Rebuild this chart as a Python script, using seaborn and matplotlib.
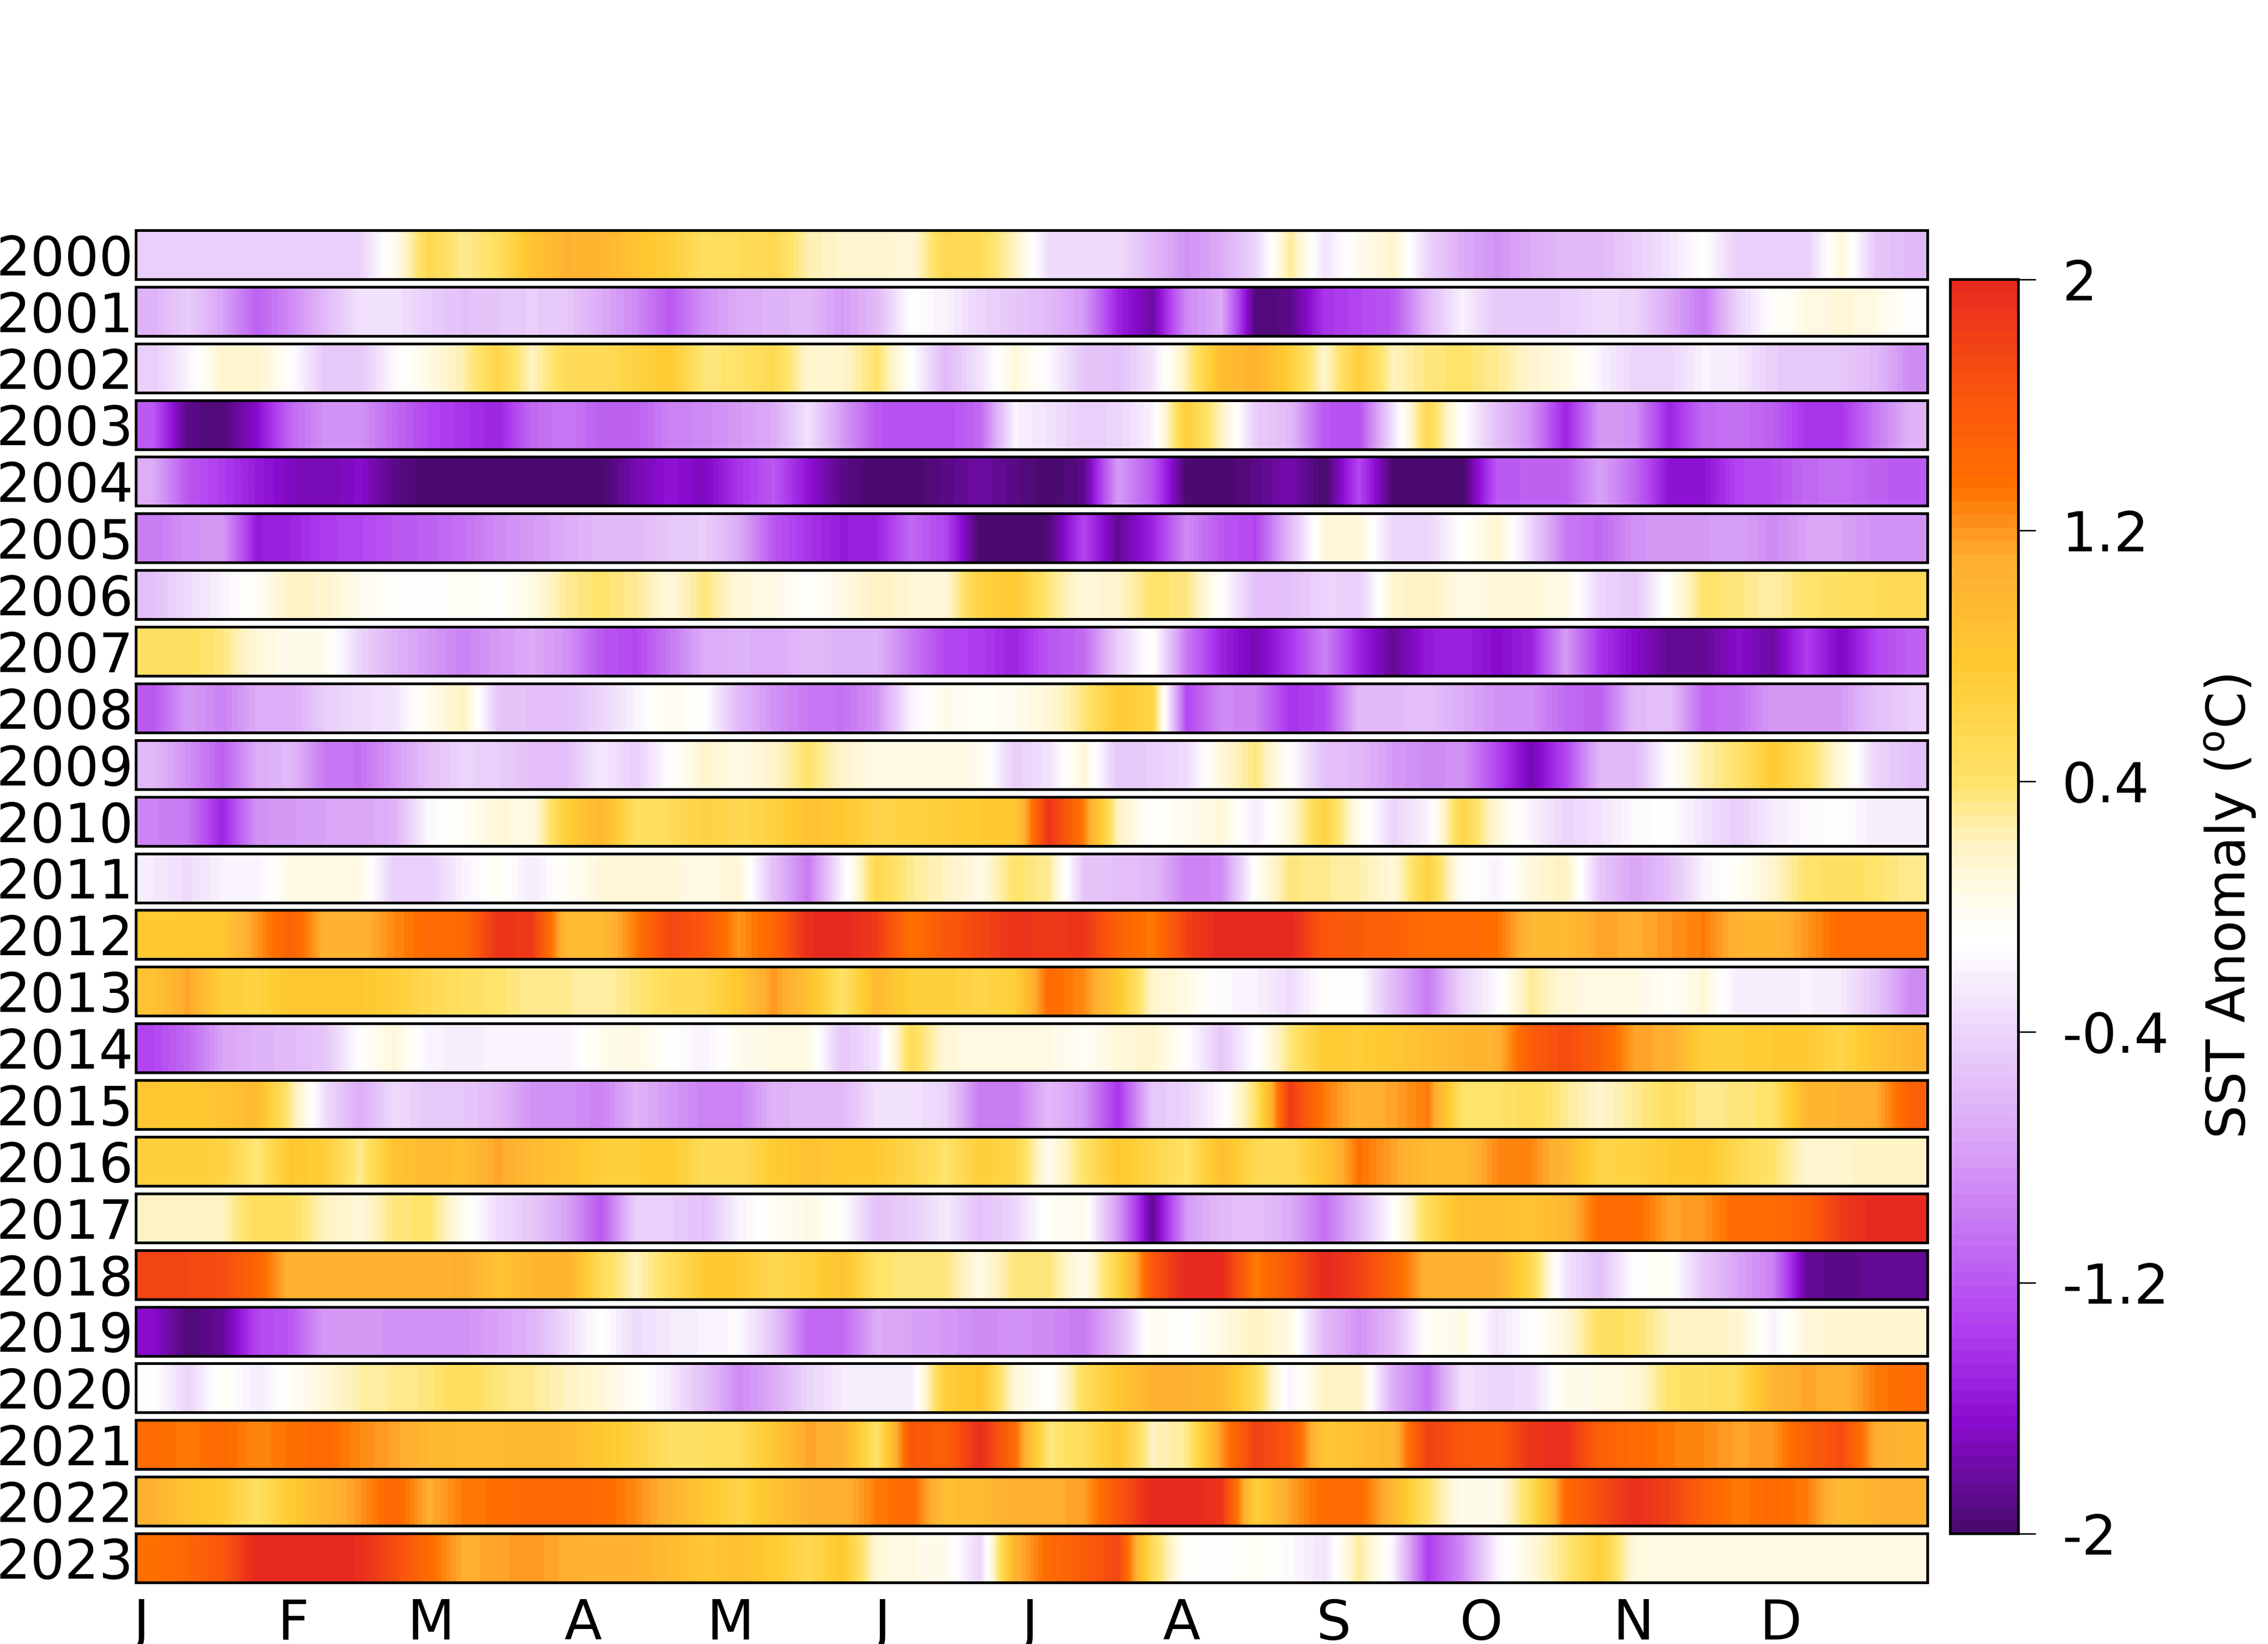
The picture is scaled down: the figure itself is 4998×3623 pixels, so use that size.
import calendar
import numpy as np
import matplotlib
matplotlib.use("Agg")
import matplotlib.pyplot as plt
from matplotlib.colors import LinearSegmentedColormap, Normalize
import seaborn as sns

years = list(range(2000, 2024))
months = ["J", "F", "M", "A", "M", "J", "J", "A", "S", "O", "N", "D"]
cbar_ticks = [-2, -1.2, -0.4, 0.4, 1.2, 2]
cbar_labels = ["-2", "-1.2", "-0.4", "0.4", "1.2", "2"]

# weekly SST anomaly
sst_2000 = [-.42, -.42, -.42, -.42, -.42, -.42, -.42, 0, .55, .3, .45, .85, 1.05, 1.0, .85, .7, .45, .5, .55, .25, .15, .15, .1, .55, .5,
            .2, -.35, -.35, -.35, -.6, -.85, -.7, -.4, .3, -.3, 0, .15, -.4, -.7, -.85, -.7, -.6, -.6, -.45, -.3, -.1, -.45, -.45, -.45, .1, -.5, -.6]
sst_2001 = [-.65, -.45, -.75, -1.15, -.9, -.6, -.3, -.3, -.45, -.55, -.5, -.45, -.5, -.7, -.9, -1.2, -.85, -.7, -.65, -.6, -.8, -.6, -.1, -.2, -.4,
            -.5, -.6, -.8, -1.5, -1.8, -.9, -.7, -1.95, -1.9, -1.4, -1.3, -1.2, -.6, -.2, -.5, -.5, -.45, -.35, -.4, -.7, -1.0, -.4, -.1, .05, .1, .05, -.12]
sst_2002 = [-.45, -.2, .15, .15, -.1, -.5, -.5, -.15, .05, .25, .6, .2, .5, .5, .65, .75, .35, .4, .55, .15, .15, .4, -.1, -.6, -.3,
            .1, -.15, -.5, -.55, -.3, .25, .9, 1.05, .7, .15, .7, .2, .35, .4, .3, .15, .05, -.2, -.4, -.4, -.2, -.25, -.45, -.5, -.5, -.6, -.9]
sst_2003 = [-1.2, -1.9, -1.95, -1.65, -1.1, -.85, -.85, -1.1, -1.3, -1.4, -1.5, -1.1, -1.0, -1.15, -1.15, -.95, -.9, -.8, -.7, -.3, -.8, -1.2, -1.25, -1.25, -1.1,
            -.2, -.3, -.45, -.4, -.2, .7, .2, -.45, -.6, -1.2, -1.25, -.3, .55, -.1, -.55, -.85, -1.5, -.8, -.85, -1.5, -1.1, -1.05, -1.15, -1.4, -1.4, -1.0, -.65]
sst_2004 = [-.7, -1.2, -1.35, -1.55, -1.7, -1.75, -1.65, -1.9, -2, -2, -2, -2, -2, -2, -1.75, -1.6, -1.7, -1.4, -1.2, -1.6, -1.9, -2, -2, -1.9, -1.8,
            -1.9, -2, -1.9, -.8, -1.2, -2, -2, -1.9, -1.75, -2, -1.3, -2, -2, -2, -1.2, -1.15, -1.15, -.75, -1.1, -1.6, -1.6, -1.3, -1.25, -1.1, -1.05, -1.15, -1.2]
sst_2005 = [-1.0, -.85, -.8, -1.55, -1.5, -1.35, -1.3, -1.2, -1.15, -1.05, -.9, -.8, -.7, -.6, -.6, -.5, -.45, -.7, -1.2, -1.4, -1.55, -1.5, -1.1, -1.3, -2,
            -2, -1.95, -1.3, -1.85, -1.5, -.9, -1.2, -1.3, -.6, .1, .1, -.4, -.4, -.1, .15, -.4, -1.0, -1.1, -.85, -.8, -.8, -.75, -.9, -.75, -.75, -.85, -.85]
sst_2006 = [-.55, -.35, -.2, -.05, .2, .15, 0, -.1, -.12, -.05, -.1, .05, .3, .4, .3, .1, .35, .1, .05, -.1, .05, .2, .12, .12, .65,
            .75, .35, .1, .15, .4, .35, -.1, -.55, -.55, -.4, -.45, .15, .2, .05, .1, .1, .05, -.4, -.5, -.05, .4, .35, .25, .4, .45, .5, .5]
sst_2007 = [.45, .45, .35, .1, 0, 0, -.4, -.65, -.8, -.95, -.8, -.7, -.85, -1.2, -1.3, -1.0, -.7, -.65, -.7, -.6, -.65, -.65, -1.0, -1.3, -1.35,
            -1.5, -1.2, -1.1, -.45, -.05, -1.0, -1.5, -1.75, -1.4, -.95, -1.5, -1.85, -1.55, -1.5, -1.65, -1.5, -.8, -1.4, -1.65, -1.85, -1.85, -1.65, -1.8, -1.35, -1.7, -1.3, -1.15]
sst_2008 = [-1.2, -.8, -.95, -.7, -.7, -.45, -.35, -.3, 0, .2, -.5, -.55, -.55, -.4, -.2, 0, -.1, -.6, -.85, -1.0, -1.05, -.85, -.2, .02, -.08,
            0, .1, .35, .75, .6, -1.3, -.9, -.95, -1.4, -1.3, -.6, -.6, -.55, -.7, -.85, -.85, -1.1, -1.15, -.6, -.55, -1.1, -1.05, -.8, -.8, -.8, -.55, -.45]
sst_2009 = [-.6, -.85, -1.15, -.7, -.6, -1.0, -1.05, -.8, -.55, -.4, -.45, -.55, -.55, -.25, -.45, -.1, .15, .05, .15, .4, .15, .05, .08, .08, .02,
            -.45, -.3, .1, -.5, -.45, -.35, .1, .35, -.1, -.55, -.6, -.8, -.9, -.85, -1.3, -1.75, -1.3, -.6, -.6, -.1, .25, .4, .75, .45, .1, -.4, -.55]
sst_2010 = [-.95, -1.0, -1.5, -.85, -.8, -.75, -.75, -.65, -.15, -.05, .1, .05, .7, 1.0, .45, .5, .65, .55, .65, .85, .8, .6, .65, .7, .75,
            .75, 1.9, 1.3, .2, -.1, 0, .1, -.25, .1, .65, 0, -.4, -.2, .6, .1, -.2, -.4, -.3, -.15, -.1, -.3, -.45, -.25, -.15, -.1, -.25, -.25]
sst_2011 = [-.25, -.35, -.2, -.2, .05, .08, .05, -.45, -.45, -.2, -.05, -.25, -.05, .1, .12, .1, .05, .12, -.55, -1.0, -.2, .55, .3, .2, .05,
            .4, .3, -.5, -.55, -.6, -.95, -.9, -.05, .35, .3, .25, .1, .65, -.05, -.2, .1, .2, -.5, -.75, -.55, -.2, -.05, .15, .4, .45, .4, .3]
sst_2012 = [.75, .8, .8, 1.2, 1.5, 1.05, 1.05, 1.25, 1.4, 1.42, 1.9, 1.85, .95, .95, 1.3, 1.75, 1.6, 1.2, 1.45, 1.95, 2, 1.85, 1.35, 1.6, 1.75,
            1.9, 1.85, 1.9, 1.5, 1.3, 1.8, 2, 2, 2, 1.6, 1.55, 1.5, 1.4, 1.4, 1.35, 1.0, .95, 1.15, 1.1, 1.2, 1.3, 1.05, 1.0, 1.2, 1.4, 1.4, 1.4]
sst_2013 = [.85, 1.15, .7, .65, .8, .8, .8, .7, .55, .45, .4, .3, .3, .25, .35, .5, .55, .8, 1.2, .9, .4, .95, .7, .7, .6,
            .7, 1.4, 1.25, .8, .15, .05, -.15, -.2, -.35, -.1, -.1, -.6, -1.0, -.4, -.15, .3, .1, .05, .05, -.05, .1, -.25, -.25, -.2, -.25, -.5, -.9]
sst_2014 = [-1.3, -1.1, -.75, -.65, -.6, -.5, -.1, .1, -.2, -.22, -.2, -.2, -.2, 0, .05, -.1, -.2, 0, .05, .05, -.5, -.3, .5, .1, .05,
            .05, .05, -.05, .1, .15, -.1, -.5, -.1, .35, .75, .7, .8, .9, 1.0, 1.05, 1.55, 1.7, 1.5, 1.15, 1.1, .7, .7, .75, .75, .6, .85, 1.0]
sst_2015 = [.8, .75, .85, .95, .3, -.35, -.7, -.35, -.5, -.5, -.6, -.85, -.85, -.95, -.65, -.8, -.95, -.95, -.65, -.6, -.6, -.3, -.3, -.4, -1.0,
            -1.0, -.6, -.8, -1.4, -.5, -.4, -.15, .4, 1.85, 1.3, 1.05, 1.15, 1.3, .4, .4, .5, .3, .15, .3, .45, .3, .35, .4, 1.0, 1.05, 1.1, 1.5]
sst_2016 = [.7, .7, .65, .35, .8, .7, .3, .85, .95, .9, 1.15, .95, .85, .7, .7, .75, .5, .5, .75, .85, .8, .75, .6, .4, .7,
            .6, 0, .4, .8, .6, .4, .9, .55, .5, .85, 1.35, 1.15, .95, .95, 1.25, 1.25, 1.0, .6, .65, .75, .8, .55, .4, .15, .15, .2, .2]
sst_2017 = [.2, .2, .2, .5, .45, .2, .1, .35, .4, 0, -.35, -.5, -.75, -1.2, -.45, -.45, -.55, -.2, -.05, .05, -.1, -.55, -.45, -.25, -.55,
            -.4, -.05, .02, -.8, -1.85, -.8, -.6, -.55, -.7, -1.05, -.6, -.1, .5, .9, .9, .85, 1.0, 1.4, 1.4, 1.15, 1.2, 1.4, 1.4, 1.5, 1.85, 2, 2]
sst_2018 = [1.75, 1.75, 1.7, 1.45, 1.05, 1.05, 1.05, 1.05, 1.05, 1.1, .85, 1.0, 1.05, .5, .2, .45, .75, .75, .55, .65, .85, .4, .35, .35, .05,
            .35, .35, 0, .6, 1.6, 2, 2, 1.3, 1.6, 2, 1.8, 1.45, 1.05, 1.05, 1.05, .55, -.3, -.55, -.1, -.05, -.5, -.75, -.95, -1.85, -1.9, -1.85, -1.85]
sst_2019 = [-1.65, -1.95, -1.85, -1.3, -1.2, -.8, -.8, -.85, -.85, -.85, -.75, -.65, -.35, -.1, -.35, -.25, -.2, -.15, -.5, -1.1, -1.1, -.7, -.75, -.8, -.9,
            -.85, -.9, -1.0, -.6, 0, -.1, .05, .2, .05, -.6, -.85, -.6, -.05, .05, -.3, -.1, .1, .45, .4, .2, .2, .15, -.2, .1, .15, .15, .15]
sst_2020 = [-.1, -.4, -.05, -.25, -.05, .1, .25, .3, .35, .5, .35, .3, .2, .1, -.05, -.25, -.55, -.9, -.7, -.4, -.25, -.25, -.25, .7, .85,
            .1, -.1, .45, .8, 1.05, 1.05, 1.0, .5, -.2, .2, .2, -.7, -1.05, -.3, -.4, -.35, 0, .05, .1, .4, .45, .5, 1.0, 1.15, 1.05, 1.3, 1.4]
sst_2021 = [1.4, 1.3, 1.4, 1.25, 1.35, 1.4, 1.25, 1.15, 1.0, .95, .95, 1.0, .95, .8, .65, .45, .45, .5, .8, 1.15, 1.05, .4, 1.6, 1.5, 1.95,
            1.4, .35, .5, .8, .2, .3, 1.2, 1.8, 1.6, .8, .9, 1.0, 1.8, 1.6, 1.55, 1.9, 1.95, 1.5, 1.4, 1.3, 1.25, 1.15, 1.2, 1.5, 1.7, 1.1, 1.0]
sst_2022 = [1.05, .85, .75, .45, .75, 1.0, 1.2, 1.45, 1.1, 1.3, 1.35, 1.45, 1.45, 1.4, 1.25, 1.05, .8, .6, .85, 1.05, 1.05, 1.3, 1.4, .9, .95,
            1.1, 1.1, 1.15, 1.6, 2, 2, 1.9, .7, 1.15, 1.4, 1.4, 1.0, .4, 0, 0, .5, 1.4, 1.7, 1.95, 1.8, 1.5, 1.3, 1.4, 1.3, .95, 1.05, 1.05]
sst_2023 = [1.35, 1.45, 1.6, 2, 2, 2, 1.95, 1.7, 1.4, 1.1, 1.15, 1.2, 1.1, 1.05, 1.05, .95, .8, .9, .75, .55, .8, .1, .05, 0, -.4,
            1.05, 1.4, 1.55, 1.75, .5, -.1, -.1, -.05, -.15, -.3, .3, -.2, -1.35, -.9, -.2, .1, .35, .7, .08, .08, .08, .08, .08, .08, .08, .08, .08]

sst_rows = [sst_2000, sst_2001, sst_2002, sst_2003, sst_2004, sst_2005, sst_2006, sst_2007,
            sst_2008, sst_2009, sst_2010, sst_2011, sst_2012, sst_2013, sst_2014, sst_2015,
            sst_2016, sst_2017, sst_2018, sst_2019, sst_2020, sst_2021, sst_2022, sst_2023]

W, H = 4998, 3623
DAYS = 365.0

# colour ramp sampled from the colorbar
cmap = LinearSegmentedColormap.from_list("sst", [
    (0.00, "#4b0a70"), (0.085, "#8a0ccf"), (0.16, "#b03ef0"), (0.22, "#c068f2"),
    (0.32, "#dcaaf7"), (0.40, "#ecd5fb"), (0.47, "#ffffff"), (0.50, "#fffdf0"),
    (0.55, "#fff3c4"), (0.60, "#ffe36a"), (0.69, "#ffcb33"), (0.78, "#ffae30"),
    (0.84, "#ff7000"), (0.92, "#f9520f"), (1.00, "#e82a1e")], N=96)
norm = Normalize(-2, 2)

plt.rcParams["font.family"] = "DejaVu Sans"
plt.rcParams["axes.unicode_minus"] = False
fig = plt.figure(figsize=(W / 300, H / 300), dpi=300)


def box(x0, y0, x1, y1):
    return [x0 / W, 1 - y1 / H, (x1 - x0) / W, (y1 - y0) / H]


cax = fig.add_axes(box(4298, 616, 4448, 3380))
cb = None

for i, (year, row) in enumerate(zip(years, sst_rows)):
    top = 508 + i * 124.87
    ax = fig.add_axes(box(300, top, 4248, top + 108))
    values = np.array([row])
    sns.heatmap(values, ax=ax, cmap=cmap, vmin=-2, vmax=2, xticklabels=False,
                yticklabels=[str(year)], cbar=i == 0, cbar_ax=cax if i == 0 else None)
    if i == 0:
        cb = ax.collections[0].colorbar
    # smooth along the year like the original strips
    ax.imshow(values, cmap=cmap, norm=norm, aspect="auto", extent=(0, values.shape[1], 1, 0),
              interpolation="bilinear", interpolation_stage="data", zorder=2)
    ax.set_xlim(0, values.shape[1])
    ax.set_ylim(1, 0)
    ax.set_yticks([0.61])
    ax.set_yticklabels([str(year)])

    # month ticks, leap years shift from March on
    first_days = [1]
    for m in range(1, 12):
        first_days.append(first_days[-1] + calendar.monthrange(year, m)[1])
    ax.set_xticks([d / DAYS * values.shape[1] for d in first_days])
    ax.tick_params(axis="x", direction="in", length=6, width=1.44, bottom=True, top=False,
                   labelbottom=i == len(years) - 1, labelsize=29, pad=7.8)
    if i == len(years) - 1:
        ax.set_xticklabels(months)
    ax.tick_params(axis="y", length=0, labelsize=28.5, pad=1.5, labelrotation=0)
    for spine in ax.spines.values():
        spine.set_visible(True)
        spine.set_linewidth(1.44)
        spine.set_color("black")
    ax.set_zorder(3)

cb.set_ticks(cbar_ticks)
cb.set_ticklabels(cbar_labels)
cb.outline.set_visible(True)
cb.outline.set_linewidth(1.44)
cb.ax.tick_params(length=9, width=0.8, labelsize=29, pad=14, direction="out")
cb.set_label(r"SST Anomaly ($^{\mathrm{o}}$C)", fontsize=28, labelpad=18)

fig.savefig("out.png", dpi=300)
